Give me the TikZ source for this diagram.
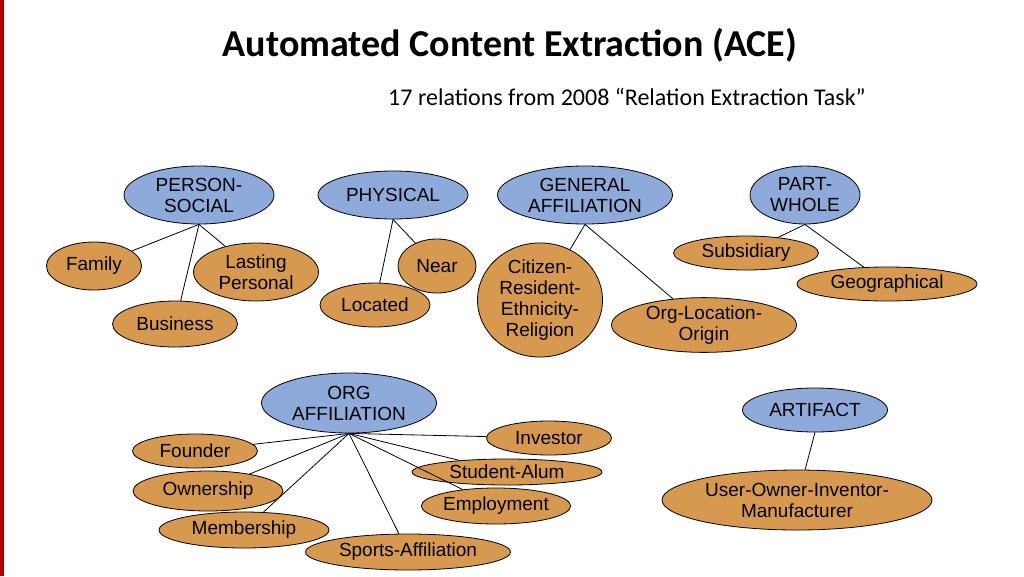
\documentclass[tikz,border=0pt]{standalone}
\usepackage{fontspec}
\setmainfont{Liberation Sans}
\newfontfamily\calib{Carlito}
\usetikzlibrary{shapes.geometric}
\definecolor{bl}{HTML}{8EAADB}
\definecolor{orn}{HTML}{D6994F}
\begin{document}
\begin{tikzpicture}[x=1pt,y=-1pt,
 el/.style={ellipse,draw=black,line width=0.8pt,inner sep=0pt,font=\fontsize{19}{21}\selectfont,align=center},
 par/.style={el,fill=bl},
 kid/.style={el,fill=orn},
 ln/.style={line width=0.8pt}]
\useasboundingbox (0,0) rectangle (1024,576);
\fill[white] (0,0) rectangle (1024,576);
\fill[red!70!black] (0,0) rectangle (4,576);
\node (title) at (510,45) {\calib\bfseries\fontsize{38}{40}\selectfont Automated Content Extraction (ACE)};
\node (sub) at (627,97) {\calib\fontsize{24}{26}\selectfont 17 relations from 2008 “Relation Extraction Task”};
\node[par,minimum width=150,minimum height=58] (ps) at (199,195) {PERSON-\\SOCIAL};
\node[par,minimum width=150,minimum height=48] (ph) at (393,195) {PHYSICAL};
\node[par,minimum width=175,minimum height=58] (ga) at (585,195) {GENERAL\\AFFILIATION};
\node[par,minimum width=110,minimum height=58] (pw) at (805,195) {PART-\\WHOLE};
\node[kid,minimum width=95,minimum height=48] (fa) at (94,266) {Family};
\node[kid,minimum width=125,minimum height=58] (lp) at (256,272) {Lasting\\Personal};
\node[kid,minimum width=125,minimum height=46] (bu) at (175,324) {Business};
\node[kid,minimum width=78,minimum height=54] (ne) at (437,266) {Near};
\node[kid,minimum width=110,minimum height=44] (lo) at (375,305) {Located};
\node[kid,minimum width=125,minimum height=96] (ci) at (540,300) {Citizen-\\Resident-\\Ethnicity-\\Religion};
\node[kid,minimum width=185,minimum height=54] (ol) at (704,325) {Org-Location-\\Origin};
\node[kid,minimum width=145,minimum height=34] (su) at (746,253) {Subsidiary};
\node[kid,minimum width=180,minimum height=34] (ge) at (887,284) {Geographical};
\node[par,minimum width=175,minimum height=60] (oa) at (349,403) {ORG\\AFFILIATION};
\node[par,minimum width=145,minimum height=44] (ar) at (815,410) {ARTIFACT};
\node[kid,minimum width=125,minimum height=34] (fo) at (195,451) {Founder};
\node[kid,minimum width=125,minimum height=34] (in) at (549,438) {Investor};
\node[kid,minimum width=190,minimum height=26] (sa) at (507,472) {Student-Alum};
\node[kid,minimum width=150,minimum height=40] (ow) at (208,491) {Ownership};
\node[kid,minimum width=140,minimum height=36] (em) at (496,506) {Employment};
\node[kid,minimum width=170,minimum height=36] (me) at (244,530) {Membership};
\node[kid,minimum width=205,minimum height=36] (sp) at (408,552) {Sports-Affiliation};
\node[kid,minimum width=270,minimum height=60] (uo) at (797,500) {User-Owner-Inventor-\\Manufacturer};
\draw[ln] (ps.south) -- (fa); \draw[ln] (ps.south) -- (lp); \draw[ln] (ps.south) -- (bu);
\draw[ln] (ph.south) -- (ne); \draw[ln] (ph.south) -- (lo);
\draw[ln] (ga.south) -- (ci); \draw[ln] (ga.south) -- (ol);
\draw[ln] (pw.south) -- (su); \draw[ln] (pw.south) -- (ge);
\foreach \k in {fo,in,sa,ow,em,me,sp} \draw[ln] (oa.south) -- (\k);
\draw[ln] (ar.south) -- (uo);
\end{tikzpicture}
\end{document}
